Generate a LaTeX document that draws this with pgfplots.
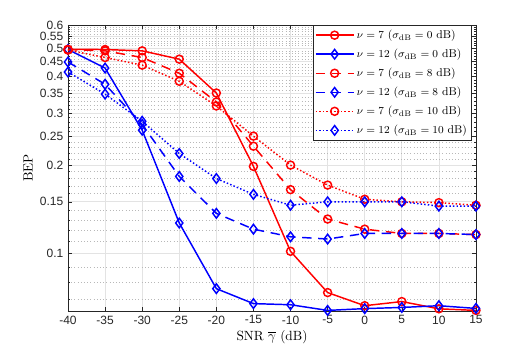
\documentclass[border=0pt]{standalone}
\usepackage{fontspec}
\newfontfamily\ticksans{Liberation Sans}
\usepackage{pgfplots}
\pgfplotsset{compat=1.18}
\definecolor{axisInk}{HTML}{262626}
\definecolor{gridMajor}{HTML}{E3E3E3}
\definecolor{gridMinor}{HTML}{B8B8B8}

\begin{document}
\begin{tikzpicture}
\useasboundingbox (0,0) rectangle (394.5pt,261.75pt);
\begin{axis}[
  at={(51pt,28.5pt)}, anchor=south west,
  scale only axis, width=306pt, height=214.5pt,
  ymode=log,
  xmin=-40, xmax=15, ymin=0.0637, ymax=0.6,
  xtick={-40,-35,...,15},
  ytick={0.1,0.15,0.2,0.25,0.3,0.35,0.4,0.45,0.5,0.55,0.6},
  yticklabels={0.1,0.15,0.2,0.25,0.3,0.35,0.4,0.45,0.5,0.55,0.6},
  minor ytick={0.07,0.08,0.09,0.11,0.12,0.13,0.14,0.16,0.17,0.18,0.19,
    0.21,0.22,0.23,0.24,0.26,0.27,0.28,0.29,0.31,0.32,0.33,0.34,
    0.36,0.37,0.38,0.39,0.41,0.42,0.43,0.44,0.46,0.47,0.48,0.49,
    0.51,0.52,0.53,0.54,0.56,0.57,0.58,0.59},
  /pgf/number format/assume math mode=true,
  tick label style={font=\ticksans\fontsize{9}{10}\selectfont, text=axisInk},
  tick align=inside,
  major tick length=3pt, minor tick length=1.8pt,
  tick style={color=axisInk, line width=0.4pt},
  axis line style={color=axisInk, line width=0.5pt},
  grid=both,
  major grid style={color=gridMajor, line width=0.5pt},
  minor grid style={color=gridMinor, dotted, line width=0.4pt},
  xlabel={SNR $\overline{\gamma}$ (dB)},
  ylabel={BEP},
  label style={font=\fontsize{10}{12}\selectfont},
  xlabel style={at={(axis description cs:0.5,-0.091)}, anchor=center},
  ylabel style={at={(axis description cs:-0.098,0.5)}, anchor=center},
  legend style={at={(0.99,1)}, anchor=north east,
    font=\fontsize{8.5}{10}\selectfont, draw=axisInk,
    inner sep=1.5pt, row sep=2.4pt},
  legend cell align=left,
  legend image code/.code={
    \draw[line width=1.1pt, mark repeat=2, mark phase=2, #1]
      plot coordinates {(0cm,0cm) (0.5cm,0cm) (1.0cm,0cm)};},
  every axis plot/.append style={line width=1.1pt},
]
% nu=7, sigma=0
\addplot[red, mark=o, mark size=3pt, mark options={solid}] coordinates {
  (-40,0.496) (-35,0.495) (-30,0.49) (-25,0.459) (-20,0.352) (-15,0.198)
  (-10,0.1017) (-5,0.0736) (0,0.0664) (5,0.0686) (10,0.0648) (15,0.064)
};
\addlegendentry{$\nu = 7$ ($\sigma_{\mathrm{dB}} = 0$ dB)}
% nu=12, sigma=0
\addplot[blue, mark=diamond, mark size=3.6pt, mark options={solid}] coordinates {
  (-40,0.495) (-35,0.428) (-30,0.263) (-25,0.127) (-20,0.0759) (-15,0.0675)
  (-10,0.0669) (-5,0.064) (0,0.0649) (5,0.0655) (10,0.0664) (15,0.065)
};
\addlegendentry{$\nu = 12$ ($\sigma_{\mathrm{dB}} = 0$ dB)}
% nu=7, sigma=8
\addplot[red, dash pattern=on 7pt off 5pt, mark=o, mark size=3pt, mark options={solid}] coordinates {
  (-40,0.495) (-35,0.49) (-30,0.465) (-25,0.411) (-20,0.328) (-15,0.232)
  (-10,0.165) (-5,0.131) (0,0.121) (5,0.117) (10,0.117) (15,0.116)
};
\addlegendentry{$\nu = 7$ ($\sigma_{\mathrm{dB}} = 8$ dB)}
% nu=12, sigma=8
\addplot[blue, dash pattern=on 7pt off 5pt, mark=diamond, mark size=3.6pt, mark options={solid}] coordinates {
  (-40,0.449) (-35,0.377) (-30,0.275) (-25,0.183) (-20,0.137) (-15,0.121)
  (-10,0.114) (-5,0.112) (0,0.117) (5,0.117) (10,0.117) (15,0.116)
};
\addlegendentry{$\nu = 12$ ($\sigma_{\mathrm{dB}} = 8$ dB)}
% nu=7, sigma=10
\addplot[red, dash pattern=on 1.1pt off 1.6pt, mark=o, mark size=3pt, mark options={solid}] coordinates {
  (-40,0.493) (-35,0.465) (-30,0.438) (-25,0.386) (-20,0.318) (-15,0.251)
  (-10,0.200) (-5,0.171) (0,0.153) (5,0.150) (10,0.149) (15,0.146)
};
\addlegendentry{$\nu = 7$ ($\sigma_{\mathrm{dB}} = 10$ dB)}
% nu=12, sigma=10
\addplot[blue, dash pattern=on 1.1pt off 1.6pt, mark=diamond, mark size=3.6pt, mark options={solid}] coordinates {
  (-40,0.415) (-35,0.349) (-30,0.282) (-25,0.219) (-20,0.180) (-15,0.159)
  (-10,0.146) (-5,0.150) (0,0.150) (5,0.150) (10,0.145) (15,0.145)
};
\addlegendentry{$\nu = 12$ ($\sigma_{\mathrm{dB}} = 10$ dB)}
\end{axis}
\end{tikzpicture}
\end{document}
